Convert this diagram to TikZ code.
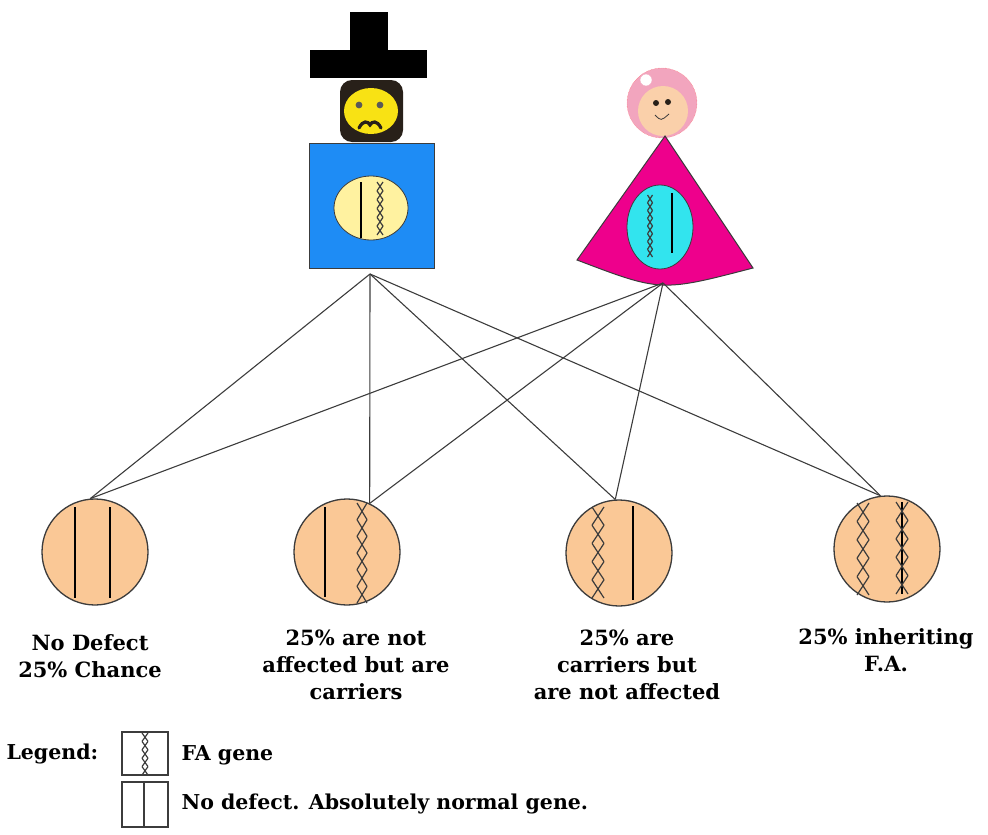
\documentclass[tikz,border=0pt]{standalone}
\usepackage{fontspec}
\setmainfont{DejaVu Serif}
\usetikzlibrary{calc}

\definecolor{dadblue}{RGB}{30,140,245}
\definecolor{dadface}{RGB}{248,226,20}
\definecolor{dadhair}{RGB}{40,32,25}
\definecolor{padyellow}{RGB}{255,242,160}
\definecolor{mumpink}{RGB}{238,0,140}
\definecolor{mumcyan}{RGB}{50,228,238}
\definecolor{mumhair}{RGB}{242,165,190}
\definecolor{mumface}{RGB}{250,208,170}
\definecolor{kidpeach}{RGB}{250,200,150}
\definecolor{edge}{RGB}{60,60,60}

\tikzset{
  link/.style={draw=edge, line width=1.1pt},
  kid/.style={circle, draw=edge, line width=1.3pt, fill=kidpeach, minimum size=106pt, inner sep=0pt},
  normal/.style={line width=2.4pt, black},
  gene/.style={line width=1.2pt, edge},
  caption/.style={align=center, font=\fontsize{21}{27}\selectfont\bfseries},
  legendtext/.style={anchor=west, font=\fontsize{20.5}{24}\selectfont\bfseries},
}

% FA gene as a chain of crosses: x, top, bottom, segments, half width
\newcommand\fagene[5]{%
  \pgfmathsetmacro\gstep{(#3-#2)/#4}%
  \foreach \k in {1,...,#4}{%
    \draw[gene] ({#1-#5},{#2+(\k-1)*\gstep}) -- ({#1+#5},{#2+\k*\gstep});
    \draw[gene] ({#1+#5},{#2+(\k-1)*\gstep}) -- ({#1-#5},{#2+\k*\gstep});
  }}

\begin{document}
\begin{tikzpicture}[x=1pt, y=-1pt]
  \useasboundingbox (0,0) rectangle (988,835);

  % father: hat, head, body
  \fill[black] (350,12) rectangle (388,52);
  \fill[black] (310,50) rectangle (427,78);
  \fill[dadhair, rounded corners=12pt] (340,80) rectangle (403,142);
  \fill[dadface] (371,111) ellipse [x radius=27, y radius=23];
  \fill[gray!70!black] (359,105) circle (3.4) (380,105) circle (3.4);
  \draw[dadhair, line width=3.2pt, line cap=round]
    (359,128) .. controls (363,120) and (368,121) .. (370,125)
    .. controls (372,121) and (377,120) .. (381,128);
  \node[draw=edge, line width=1pt, fill=dadblue, minimum size=125pt, inner sep=0pt] (dad) at (372,206) {};
  \fill[padyellow, draw=edge, line width=0.8pt] (371,208) ellipse [x radius=37, y radius=32];
  \draw[normal] (361,182) -- (361,238);
  \fagene{380}{182}{235}{6}{3}
  \coordinate (dadfoot) at (370,274);

  % mother: head, body
  \fill[mumhair, draw=red!60, densely dotted] (662,103) circle (35);
  \fill[mumface] (663,111) ellipse [x radius=25, y radius=25];
  \fill[white, draw=mumhair] (646,80) circle (6);
  \fill[dadhair] (656,103) circle (3) (668,102) circle (3);
  \draw[edge, line width=0.8pt] (655,115) .. controls (661,121) .. (669,114);
  \filldraw[fill=mumpink, draw=edge, line width=1pt]
    (665,136) -- (577,260) .. controls (661,292) .. (753,268) -- cycle;
  \fill[mumcyan, draw=edge, line width=0.8pt] (660,227) ellipse [x radius=33, y radius=42];
  \fagene{650}{195}{257}{8}{2.5}
  \draw[normal] (672,193) -- (672,253);
  \coordinate (mumfoot) at (663,283);

  % children
  \node[kid] (kid1) at (95,552) {};
  \node[kid] (kid2) at (347,552) {};
  \node[kid] (kid3) at (619,553) {};
  \node[kid] (kid4) at (887,549) {};

  \foreach \p in {dadfoot, mumfoot}{
    \draw[link] (\p) -- (kid1.95);
    \draw[link] (\p) -- (kid2.65);
    \draw[link] (\p) -- (kid3.94);
    \draw[link] (\p) -- (kid4.97);
  }

  % genes of each child
  \draw[normal] (75,507) -- (75,598);
  \draw[normal] (110,507) -- (110,598);
  \draw[normal] (325,507) -- (325,597);
  \fagene{362}{503}{603}{6}{5}
  \fagene{598}{507}{598}{5}{6}
  \draw[normal] (633,506) -- (633,600);
  \fagene{863}{503}{595}{5}{6}
  \draw[black, line width=1.6pt] (902,502) -- (902,594);
  \fagene{902}{502}{594}{5}{6}

  % captions
  \node[caption] (cap1) at (90,656) {No Defect\\25\% Chance};
  \node[caption] (cap2) at (356,665) {25\% are not\\affected but are\\carriers};
  \node[caption] (cap3) at (627,665) {25\% are\\carriers but\\are not affected};
  \node[caption] (cap4) at (886,650) {25\% inheriting\\F.A.};

  % legend
  \node[legendtext] (legend) at (3,754) {Legend:};
  \draw[edge, line width=1.1pt] (122,732) rectangle (168,775);
  \fagene{145}{733}{775}{5}{3}
  \draw[edge, line width=1.1pt] (122,782) rectangle (168,827);
  \draw[edge, line width=1.1pt] (144,782) -- (144,827);
  \node[legendtext] (fa) at (178,755) {FA gene};
  \node[legendtext] (ok) at (178,804) {No defect. Absolutely normal gene.};
\end{tikzpicture}
\end{document}
